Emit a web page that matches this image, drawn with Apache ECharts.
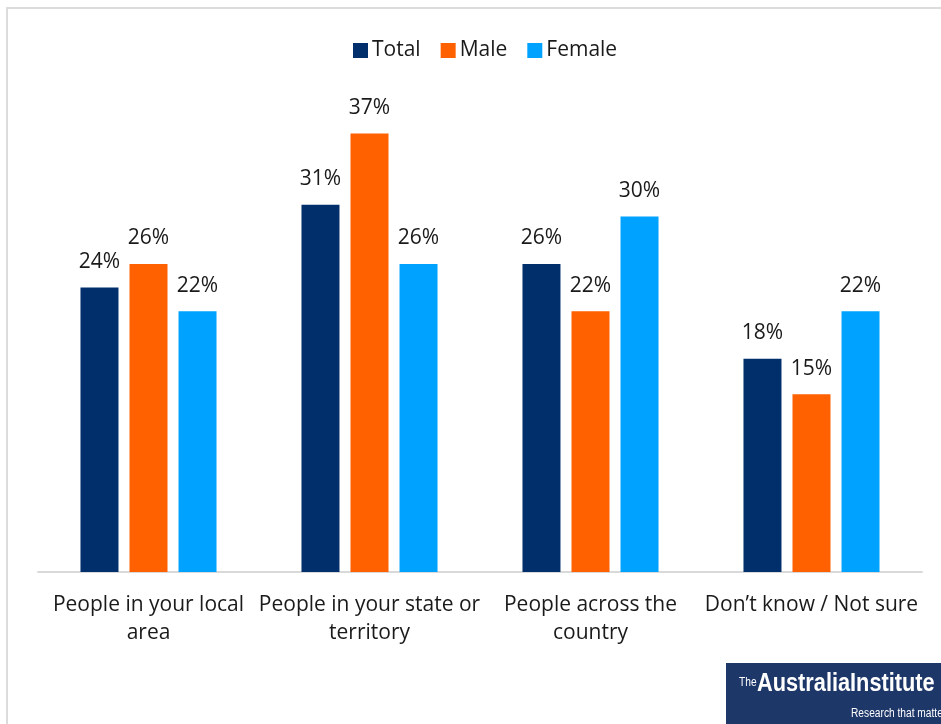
<!DOCTYPE html>
<html>
<head>
<meta charset="utf-8">
<script src="https://cdn.jsdelivr.net/npm/echarts@6/dist/echarts.min.js"></script>
<style>
  html, body { margin: 0; padding: 0; background: #ffffff; }
  #chart { width: 941px; height: 724px; }
</style>
</head>
<body>
<div id="chart"></div>
<script>
// Survey groups shown along the x axis
const categories = [
  'People in your local\narea',
  'People in your state or\nterritory',
  'People across the\ncountry',
  'Don\u2019t know / Not sure'
];

// Shares of respondents (%)
const totalValues = [24, 31, 26, 18];
const maleValues = [26, 37, 22, 15];
const femaleValues = [22, 26, 30, 22];

const seriesNames = ['Total', 'Male', 'Female'];
const seriesColors = ['#002F6C', '#FF6000', '#00A2FF'];

const FONT = '"Open Sans", Lato, sans-serif';

const chart = echarts.init(document.getElementById('chart'), null, { renderer: 'canvas' });

const barLabel = {
  show: true,
  position: 'top',
  distance: 15,
  formatter: p => p.value + '%',
  color: '#1a1a1a',
  fontFamily: FONT,
  fontSize: 21
};

function makeSeries(name, values, color) {
  return {
    name: name,
    type: 'bar',
    data: values,
    barWidth: 38,
    barGap: '29%',
    itemStyle: { color: color },
    label: barLabel,
    emphasis: { disabled: true }
  };
}

chart.setOption({
  animation: false,
  backgroundColor: '#ffffff',
  legend: {
    top: 35,
    left: 348,
    itemWidth: 15,
    itemHeight: 15,
    itemGap: 20,
    icon: 'rect',
    textStyle: { fontFamily: FONT, fontSize: 21, color: '#1a1a1a', padding: [0, 0, 0, -1] },
    data: seriesNames
  },
  grid: {
    left: 38,
    right: 19,
    top: 98,
    bottom: 152,
    containLabel: false
  },
  xAxis: {
    type: 'category',
    data: categories,
    axisLine: { lineStyle: { color: '#d9d9d9', width: 2 } },
    axisTick: { show: false },
    axisLabel: {
      interval: 0,
      margin: 19,
      color: '#1a1a1a',
      fontFamily: FONT,
      fontSize: 21,
      lineHeight: 28
    }
  },
  yAxis: {
    type: 'value',
    min: 0,
    max: 40,
    interval: 10,
    show: false,
    splitLine: { show: false }
  },
  series: [
    makeSeries(seriesNames[0], totalValues, seriesColors[0]),
    makeSeries(seriesNames[1], maleValues, seriesColors[1]),
    makeSeries(seriesNames[2], femaleValues, seriesColors[2])
  ],
  graphic: [
    {
      type: 'rect',
      silent: true,
      shape: { x: 7, y: 8, width: 960, height: 740 },
      style: { fill: 'none', stroke: '#dcdcdc', lineWidth: 2 }
    },
    {
      type: 'group',
      left: 726,
      top: 663,
      silent: true,
      children: [
        {
          type: 'rect',
          shape: { x: 0, y: 0, width: 215, height: 61 },
          style: { fill: '#1E3769' }
        },
        {
          type: 'text',
          x: 13,
          y: 14,
          scaleX: 0.85,
          style: { text: 'The', fill: '#ffffff', font: '12px "Liberation Sans", sans-serif' }
        },
        {
          type: 'text',
          x: 31,
          y: 9,
          scaleX: 0.87,
          style: { text: 'AustraliaInstitute', fill: '#ffffff', font: 'bold 25px "Liberation Sans", sans-serif' }
        },
        {
          type: 'text',
          x: 125,
          y: 45,
          scaleX: 0.85,
          style: { text: 'Research that matter', fill: '#ffffff', font: '12px "Liberation Sans", sans-serif' }
        }
      ]
    }
  ]
});
</script>
</body>
</html>
